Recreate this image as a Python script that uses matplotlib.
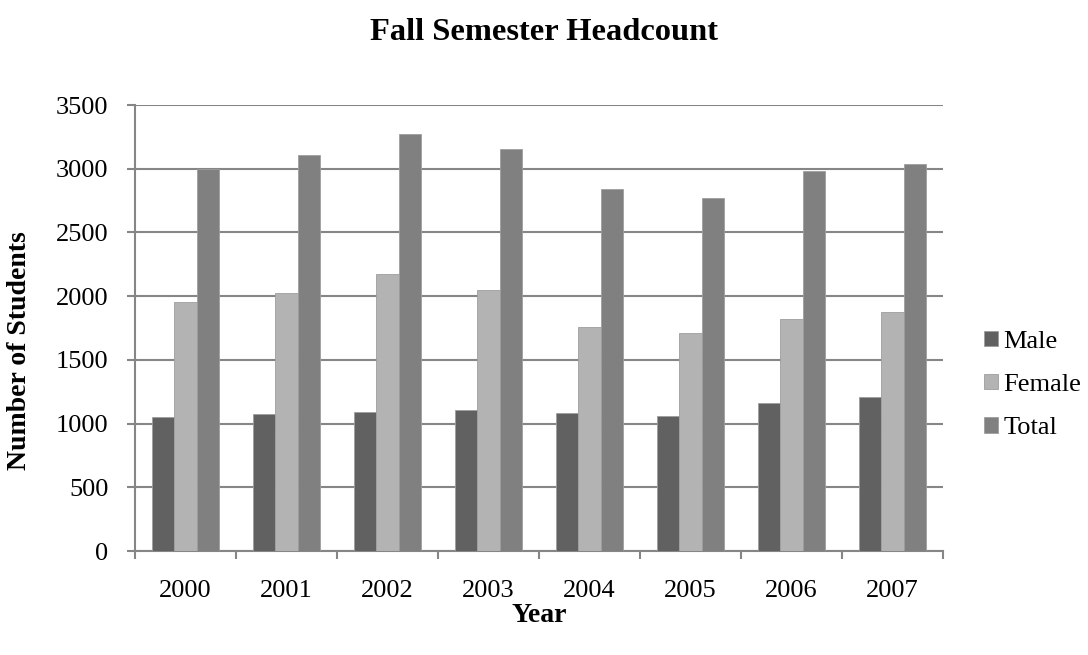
import matplotlib
matplotlib.use("Agg")
import matplotlib.pyplot as plt
import numpy as np

years = ["2000", "2001", "2002", "2003", "2004", "2005", "2006", "2007"]
male = [1050, 1076, 1092, 1105, 1084, 1056, 1158, 1210]
female = [1951, 2021, 2173, 2050, 1755, 1712, 1822, 1877]
total = [3001, 3104, 3270, 3158, 2842, 2767, 2981, 3036]
series_names = ["Male", "Female", "Total"]
colors = ["#616161", "#b3b3b3", "#808080"]

plt.rcParams['font.family'] = ['Liberation Serif', 'DejaVu Serif']

fig = plt.figure(figsize=(10.88, 6.55), dpi=100)
ax = fig.add_axes([135/1088, 1 - 551/655, 808/1088, 446/655])

x = np.arange(len(years))
w = 0.222
for i, (vals, name, c) in enumerate(zip([male, female, total], series_names, colors)):
    ax.bar(x + (i - 1) * w, vals, width=w, color=c, label=name,
           edgecolor="#9e9e9e", linewidth=0.6, zorder=3)

ax.set_xlim(-0.5, len(years) - 0.5)
ax.set_ylim(0, 3500)
ax.set_yticks(np.arange(0, 3501, 500))
ax.set_xticks(x)
ax.set_xticklabels(years)
ax.set_xticks(np.arange(-0.5, len(years)), minor=True)
ax.tick_params(axis='x', which='major', length=0, pad=21, labelsize=19)
ax.tick_params(axis='x', which='minor', length=6, width=1.5, color='#868686', direction='out')
ax.tick_params(axis='y', length=6, width=1.5, color='#868686', direction='out', labelsize=19, pad=13)

ax.grid(axis='y', color='#868686', linewidth=1.5, zorder=0)
ax.set_axisbelow(True)
for s in ['top', 'right']:
    ax.spines[s].set_visible(False)
for s in ['left', 'bottom']:
    ax.spines[s].set_color('#868686')
    ax.spines[s].set_linewidth(1.5)

fig.text(0.5, 1 - 32/655, "Fall Semester Headcount", ha='center', va='center',
         fontsize=23.4, fontweight='bold')
fig.text(20/1088, 1 - 351/655, "Number of Students", ha='center', va='center',
         rotation=90, fontsize=20, fontweight='bold')
fig.text(539/1088, 1 - 616/655, "Year", ha='center', va='center',
         fontsize=20, fontweight='bold')

fig.legend(loc='center left', bbox_to_anchor=(984/1088, 1 - 385/655), frameon=False,
           fontsize=19, handlelength=0.53, handleheight=0.53, handletextpad=0.2,
           labelspacing=0.8, borderaxespad=0, borderpad=0)

fig.savefig("out.png", dpi=100)
